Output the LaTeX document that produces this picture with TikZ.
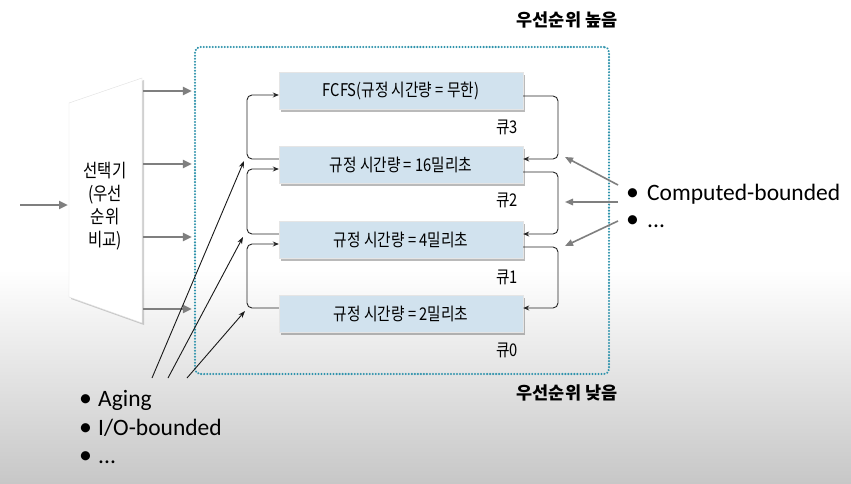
\documentclass[tikz,border=0pt]{standalone}
\usepackage{fontspec}
\setmainfont{Carlito}
\newfontfamily\kr{Noto Sans CJK KR}
\usetikzlibrary{arrows.meta,shadows,calc}
\definecolor{tealdot}{HTML}{2F93AC}
\definecolor{qfill}{HTML}{D1E2EE}
\definecolor{garrow}{HTML}{7F7F7F}
\newcommand{\cx}[1]{\scalebox{0.84}[1]{#1}}
\newcommand{\bl}[1]{\makebox[#1][l]{\scalebox{1.1}{•}}}
\begin{document}
\begin{tikzpicture}[x=1pt,y=-1pt,
  pboxs/.style={draw=tealdot,line width=2.3pt,dash pattern=on 0.01pt off 3pt,line cap=round,rounded corners=5pt,minimum width=414pt,minimum height=327pt,inner sep=0pt},
  hdr/.style={font=\kr\bfseries\fontsize{17.5}{20}\selectfont,inner sep=0pt},
  qbox/.style={fill=qfill,draw=black!10,minimum width=244pt,minimum height=37pt,inner sep=0pt,
     font=\kr\fontsize{17.5}{20}\selectfont,
     drop shadow={shadow xshift=1.5pt,shadow yshift=-2.5pt,opacity=.45,fill=black!60}},
  qlab/.style={font=\kr\fontsize{17.5}{20}\selectfont,inner sep=0pt},
  garr/.style={draw=garrow,line width=2.4pt,-{Triangle[length=9pt,width=8pt]}},
  garr2/.style={draw=garrow,line width=1.6pt,-{Triangle[length=8pt,width=6.5pt]}},
  loopc/.style={draw=black!85,line width=0.9pt,rounded corners=5pt,-{Stealth[length=6pt,width=5pt]}},
  barr/.style={draw=black!90,line width=0.9pt,-{Stealth[length=7pt,width=5pt]}},
  bul/.style={font=\fontsize{23.5}{28}\selectfont,inner sep=0pt,anchor=base west,text height=15pt,text depth=5pt}
]
\useasboundingbox (0,0) rectangle (851,484);
\fill[white] (0,0) rectangle (851,270);
\shade[top color=white,bottom color=black!22] (0,270) rectangle (851,484);

% priority box
\node[pboxs] (pb) at (402,210.5) {};
\node[hdr] (hi) at (567,20) {우선순위 높음};
\node[hdr] (lo) at (567,393) {우선순위 낮음};

% selector
\coordinate (t1) at (69,103);
\coordinate (t2) at (142,78);
\coordinate (t3) at (142,323);
\coordinate (t4) at (69,297);
\draw[fill=white,draw=black!12,drop shadow={shadow xshift=2pt,shadow yshift=-2pt,opacity=.3,fill=black!60}] (t1)--(t2)--(t3)--(t4)--cycle;
\node[font=\kr\fontsize{18.5}{23}\selectfont,align=center,inner sep=0pt] (sel) at (105,206) {\cx{선택기}\\\cx{(우선}\\\cx{순위}\\\cx{비교)}};

\coordinate (in0) at (20,205);
\coordinate (selL) at (68,205);
\draw[garr] (in0) -- (selL);

\coordinate (o1) at (143,91);
\coordinate (o2) at (143,164);
\coordinate (o3) at (143,237);
\coordinate (o4) at (143,309);
\foreach \i in {1,...,4} \draw[garr,shorten >=2pt] (o\i) -- (pb.west |- o\i);

% queues
\node[qbox] (q3) at (401,91) {\cx{FCFS(규정 시간량 = 무한)}};
\node[qbox] (q2) at (401,165) {\cx{규정 시간량 = 16밀리초}};
\node[qbox] (q1) at (401,240) {\cx{규정 시간량 = 4밀리초}};
\node[qbox] (q0) at (401,314) {\cx{규정 시간량 = 2밀리초}};

\node[qlab] (l3) at (507,127) {\cx{큐3}};
\node[qlab] (l2) at (507,200) {\cx{큐2}};
\node[qlab] (l1) at (507,277) {\cx{큐1}};
\node[qlab] (l0) at (507,350) {\cx{큐0}};

\coordinate (rx) at (558,0);
\coordinate (lx) at (247,0);

% right loops (demotion)
\draw[loopc] ([yshift=-5pt]q3.east) -- ([yshift=-5pt]q3.east -| rx) -- ([yshift=6pt]q2.east -| rx) -- ([yshift=6pt]q2.east);
\draw[loopc] ([yshift=-7pt]q2.east) -- ([yshift=-7pt]q2.east -| rx) -- ([yshift=6pt]q1.east -| rx) -- ([yshift=6pt]q1.east);
\draw[loopc] ([yshift=-7pt]q1.east) -- ([yshift=-7pt]q1.east -| rx) -- ([yshift=6pt]q0.east -| rx) -- ([yshift=6pt]q0.east);

% left loops (promotion)
\draw[loopc] ([yshift=6pt]q2.west) -- ([yshift=6pt]q2.west -| lx) -- ([yshift=-4pt]q3.west -| lx) -- ([yshift=-4pt]q3.west);
\draw[loopc] ([yshift=6pt]q1.west) -- ([yshift=6pt]q1.west -| lx) -- ([yshift=-4pt]q2.west -| lx) -- ([yshift=-4pt]q2.west);
\draw[loopc] ([yshift=6pt]q0.west) -- ([yshift=6pt]q0.west -| lx) -- ([yshift=-4pt]q1.west -| lx) -- ([yshift=-4pt]q1.west);

% aging arrows
\coordinate (b1) at (152,378);
\coordinate (b2) at (168,378);
\coordinate (b3) at (187,378);
\coordinate (e1) at (244,161);
\coordinate (e2) at (243,237);
\coordinate (e3) at (245,311);
\draw[barr] (b1) -- (e1);
\draw[barr] (b2) -- (e2);
\draw[barr] (b3) -- (e3);

% computed-bounded arrows
\coordinate (c1) at (618,185);
\coordinate (c2) at (618,202);
\coordinate (c3) at (618,221);
\coordinate (g1) at (565,157);
\coordinate (g2) at (565,202);
\coordinate (g3) at (565,246);
\draw[garr2] (c1) -- (g1);
\draw[garr2] (c2) -- (g2);
\draw[garr2] (c3) -- (g3);

% bullet texts
\node[bul] (r1) at (626,200) {\bl{21pt}Computed-bounded};
\node[bul] (r2) at (626,227) {\bl{21pt}...};
\node[bul] (a1) at (79,406) {\bl{19pt}Aging};
\node[bul] (a2) at (79,435) {\bl{19pt}I/O-bounded};
\node[bul] (a3) at (79,463) {\bl{19pt}...};
\end{tikzpicture}
\end{document}
